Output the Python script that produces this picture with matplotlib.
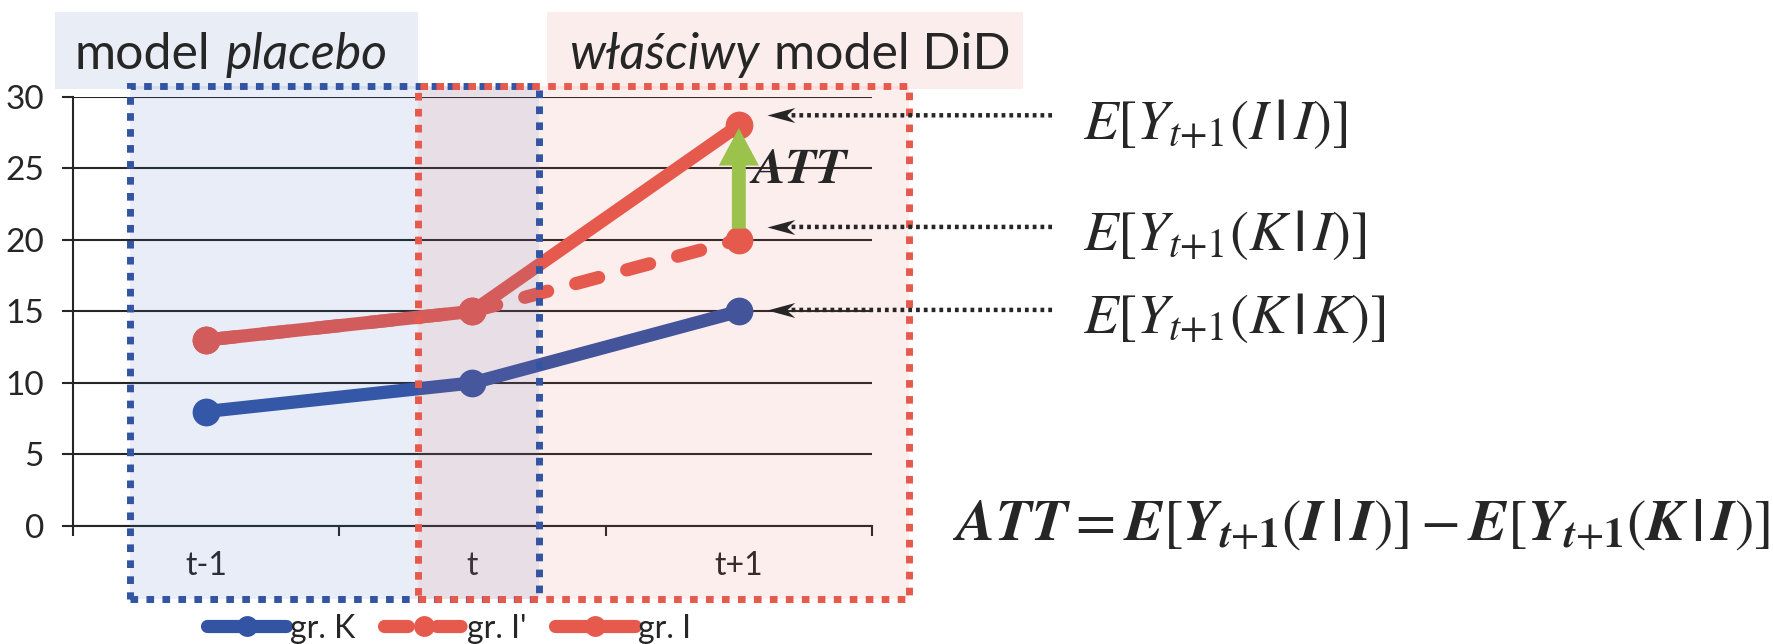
import matplotlib
matplotlib.use("Agg")
import matplotlib.pyplot as plt
from matplotlib.patches import Rectangle
from matplotlib.lines import Line2D
from matplotlib.path import Path

# ---- data -------------------------------------------------------------
categories = ["t-1", "t", "t+1"]
group_K = [8, 10, 15]          # control group
group_I_cf = [13, 15, 20]      # treated group, counterfactual path (gr. I')
group_I = [13, 15, 28]         # treated group, observed
y_ticks = [0, 5, 10, 15, 20, 25, 30]
legend_labels = ["gr. K", "gr. I'", "gr. I"]
pointer_labels = [r"$E[Y_{t{+}1}(I\,\mathbf{|}\,I)]$",
                  r"$E[Y_{t{+}1}(K\,\mathbf{|}\,I)]$",
                  r"$E[Y_{t{+}1}(K\,\mathbf{|}\,K)]$"]

# ---- styling ----------------------------------------------------------
BLUE = "#3254A3"
RED = "#E65A4E"
GREEN = "#9BC34B"
INK = "#262626"
BLUE_FILL = "#4472C4"
RED_FILL = "#E85C50"
LW = 9.5
MS = 20

plt.rcParams["font.family"] = ["Lato", "DejaVu Sans"]
plt.rcParams["mathtext.fontset"] = "stix"

W, H = 1774, 644
fig = plt.figure(figsize=(W / 100, H / 100), dpi=100)
ax = fig.add_axes([73 / W, 1 - 526 / H, (872 - 73) / W, (526 - 96.7) / H])
x = list(range(len(categories)))

ax.set_xlim(-0.5, len(categories) - 0.5)
ax.set_ylim(0, 30)

# axes, grid and ticks
for side in ("top", "right"):
    ax.spines[side].set_visible(False)
for side in ("left", "bottom"):
    ax.spines[side].set_color(INK)
    ax.spines[side].set_linewidth(1.5)
ax.set_axisbelow(True)
ax.set_yticks(y_ticks)
ax.yaxis.grid(True, color=INK, lw=1.5)
ax.tick_params(axis="y", length=8, width=1.5, color=INK, pad=13,
               labelsize=24, labelcolor=INK)
ax.set_xticks([i - 0.5 for i in range(len(categories) + 1)])
ax.set_xticklabels([])
ax.set_xticks(x, minor=True)
ax.set_xticklabels(categories, minor=True)
ax.tick_params(axis="x", which="major", length=7, width=1.5, color=INK)
ax.tick_params(axis="x", which="minor", length=0, pad=18, labelsize=23,
               labelcolor=INK)

# series
ax.plot(x, group_K, color=BLUE, lw=LW, marker="o", ms=MS, mew=0,
        solid_capstyle="round", zorder=2)
ax.plot(x, group_I_cf, color=RED, lw=LW, ls=(3.6, (1.8, 2.2)),
        dash_capstyle="round", marker="o", ms=MS, mew=0, zorder=2.1)
ax.plot(x, group_I, color=RED, lw=LW, marker="o", ms=MS, mew=0,
        solid_capstyle="round", zorder=2.2)

# shaded model windows with dotted outlines
PLACEBO_SPAN = (-0.286, 1.25)
DID_SPAN = (0.796, 2.639)
BOX_BOTTOM, BOX_TOP = -5.1, 30.75
for (x0, x1), fill, alpha, edge, z in [
        (PLACEBO_SPAN, BLUE_FILL, 0.12, BLUE, 5),
        (DID_SPAN, RED_FILL, 0.10, RED, 5.1)]:
    ax.add_patch(Rectangle((x0, BOX_BOTTOM), x1 - x0, BOX_TOP - BOX_BOTTOM,
                           facecolor=fill, alpha=alpha, edgecolor="none",
                           zorder=3, clip_on=False))
    ax.add_patch(Rectangle((x0, BOX_BOTTOM), x1 - x0, BOX_TOP - BOX_BOTTOM,
                           fill=False, edgecolor=edge, lw=5,
                           linestyle=(0, (1.1, 1.2)), zorder=z,
                           clip_on=False))

# ATT arrow between counterfactual and observed outcome
last = len(categories) - 1
ax.annotate("", xy=(last, group_I[last]), xytext=(last, group_I_cf[last]),
            arrowprops=dict(arrowstyle="simple,head_length=2.7,head_width=2.9,tail_width=1.0",
                            mutation_scale=10, color=GREEN, lw=0,
                            shrinkA=8, shrinkB=2),
            zorder=4)
ax.annotate("ATT", xy=(last, (group_I[last] + group_I_cf[last]) / 2),
            xytext=(10, 0), textcoords="offset points", va="baseline",
            ha="left", fontsize=36, family="STIXGeneral", weight="bold",
            style="italic", color=INK, zorder=6)

# dotted pointers with labels
stealth = Path([(0, 0), (1, 0.27), (0.7, 0), (1, -0.27), (0, 0)],
               [Path.MOVETO, Path.LINETO, Path.LINETO, Path.LINETO, Path.CLOSEPOLY])
pointer_values = [group_I[last], group_I_cf[last], group_K[last]]
pointer_shift = [0.7, 0.9, 0.1]
tip_x, tail_x = last + 0.105, last + 1.176
for val, shift, label in zip(pointer_values, pointer_shift, pointer_labels):
    yp = val + shift
    ax.annotate("", xy=(tip_x + 0.05, yp), xytext=(tail_x, yp),
                arrowprops=dict(arrowstyle="-", lw=3.2, color=INK,
                                linestyle=(0, (0.85, 0.9)), shrinkA=0, shrinkB=0,
                                capstyle="butt"),
                annotation_clip=False, zorder=6)
    ax.plot([tip_x], [yp], marker=stealth, ms=40, color=INK, mew=0,
            clip_on=False, zorder=6)
    ax.annotate(label, xy=(tail_x, yp), xytext=(22, -6),
                textcoords="offset points", va="center", ha="left",
                fontsize=41, color=INK, annotation_clip=False)

# ATT definition
fig.text(953 / W, 1 - 540 / H,
         r"$\mathbfit{ATT}=\mathbfit{E}[\mathbfit{Y}_{\mathbfit{t}{+}\mathbf{1}}(\mathbfit{I}\,\mathbf{|}\,\mathbfit{I})]"
         r"-\mathbfit{E}[\mathbfit{Y}_{\mathbfit{t}{+}\mathbf{1}}(\mathbfit{K}\,\mathbf{|}\,\mathbfit{I})]$",
         fontsize=42, color=INK, va="baseline", ha="left")

# window titles on tinted backgrounds
fig.patches.append(Rectangle((55 / W, 1 - 89 / H), (418 - 55) / W, 77 / H,
                             transform=fig.transFigure, facecolor="#E9EDF6",
                             edgecolor="none", zorder=-1))
fig.patches.append(Rectangle((547 / W, 1 - 89 / H), (1023 - 547) / W, 77 / H,
                             transform=fig.transFigure, facecolor="#FCEDED",
                             edgecolor="none", zorder=-1))

renderer = fig.canvas.get_renderer()
baseline = 1 - 69 / H
gap = 15


def two_part(x_px, first, first_style, second, second_style):
    t1 = fig.text(x_px / W, baseline, first, fontsize=36, style=first_style,
                  color=INK, va="baseline", ha="left")
    bb = t1.get_window_extent(renderer)
    fig.text((bb.x1 + gap) / W, baseline, second, fontsize=36,
             style=second_style, color=INK, va="baseline", ha="left")


two_part(75, "model", "normal", "placebo", "italic")
two_part(569, "właściwy", "italic", "model DiD", "normal")

# legend
handles = [
    Line2D([], [], color=BLUE, lw=LW, marker="o", ms=15, mew=0,
           solid_capstyle="round"),
    Line2D([], [], color=RED, lw=LW, ls=(0, (1.8, 2.2)), dash_capstyle="round",
           marker="o", ms=15, mew=0),
    Line2D([], [], color=RED, lw=LW, marker="o", ms=15, mew=0,
           solid_capstyle="round"),
]
fig.legend(handles, legend_labels, loc="center", bbox_to_anchor=(0.253, 0.024),
           ncol=3, frameon=False, fontsize=23, handlelength=2.5,
           handletextpad=0.1, columnspacing=0.9, borderaxespad=0, borderpad=0,
           labelcolor=INK)

fig.savefig("out.png", dpi=100)
